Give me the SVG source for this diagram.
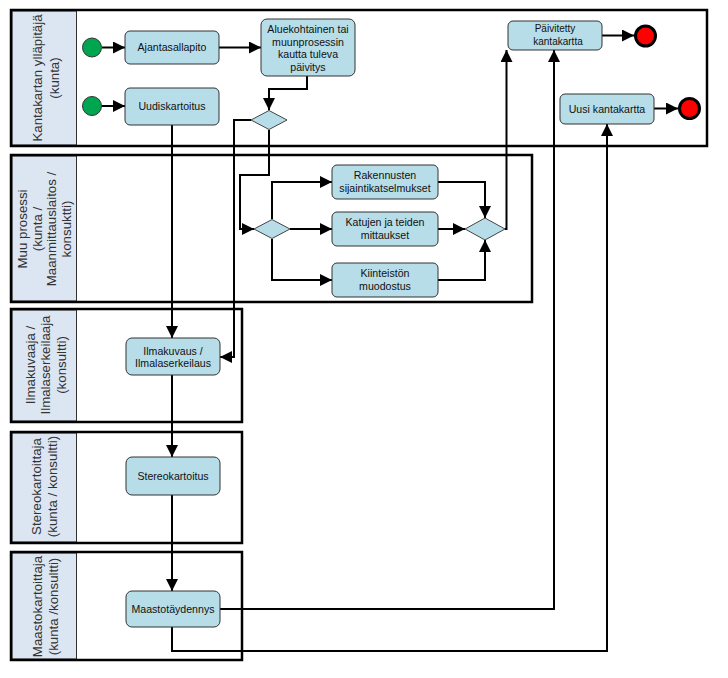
<svg xmlns="http://www.w3.org/2000/svg" width="728" height="678" viewBox="0 0 728 678">
<defs>
<marker id="ah" markerWidth="12" markerHeight="12" refX="12" refY="6" orient="auto" markerUnits="userSpaceOnUse">
<path d="M0,0 L12,6 L0,12 z" fill="#000"/>
</marker>
<style>
.lane{fill:none;stroke:#000;stroke-width:2.5}
.hdr{fill:#dce6f2;stroke:#333;stroke-width:1}
.ht{font-family:"Liberation Sans",Arial,sans-serif;font-size:13.3px;fill:#333;text-anchor:middle}
.node{fill:#b7dde8;stroke:#333;stroke-width:1}
.nt{font-family:"Liberation Sans",Arial,sans-serif;font-size:10.6px;fill:#111;text-anchor:middle}
.dia{fill:#b7dde8;stroke:#444;stroke-width:1}
.c{fill:none;stroke:#000;stroke-width:2;marker-end:url(#ah)}
.start{fill:#00a550;stroke:#333;stroke-width:1}
.end{fill:#ff0000;stroke:#000;stroke-width:3}
</style>
</defs>
<rect width="728" height="678" fill="#fff"/>

<g id="lane1">
<rect class="hdr" x="12" y="11" width="64.5" height="134"/>
<rect class="lane" x="11" y="10" width="696" height="136"/>
<text class="ht" transform="translate(41.5,78) rotate(-90)">Kantakartan  ylläpitäjä</text>
<text class="ht" transform="translate(58.5,78) rotate(-90)">(kunta)</text>
</g>
<g id="lane2">
<rect class="hdr" x="12" y="156" width="64.5" height="145"/>
<rect class="lane" x="11" y="155" width="521" height="147"/>
<text class="ht" transform="translate(26.8,229) rotate(-90)">Muu prosessi</text>
<text class="ht" transform="translate(41.5,229) rotate(-90)">(kunta /</text>
<text class="ht" transform="translate(56.2,229) rotate(-90)">Maanmittauslaitos /</text>
<text class="ht" transform="translate(70.9,229) rotate(-90)">konsuktti)</text>
</g>
<g id="lane3">
<rect class="hdr" x="12" y="310" width="64.5" height="111"/>
<rect class="lane" x="11" y="309" width="231" height="113"/>
<text class="ht" transform="translate(34.5,365) rotate(-90)">Ilmakuvaaja  /</text>
<text class="ht" transform="translate(50,365) rotate(-90)">Ilmalaserkeilaaja</text>
<text class="ht" transform="translate(65.5,365) rotate(-90)">(konsultti)</text>
</g>
<g id="lane4">
<rect class="hdr" x="12" y="433" width="64.5" height="109"/>
<rect class="lane" x="11" y="432" width="231" height="111"/>
<text class="ht" transform="translate(41.3,486.5) rotate(-90)">Stereokartoittaja</text>
<text class="ht" transform="translate(57.3,486.5) rotate(-90)">(kunta / konsultti)</text>
</g>
<g id="lane5">
<rect class="hdr" x="12" y="553" width="64.5" height="106"/>
<rect class="lane" x="11" y="552" width="231" height="108"/>
<text class="ht" transform="translate(41.6,606.5) rotate(-90)">Maastokartoittaja</text>
<text class="ht" transform="translate(57.6,606.5) rotate(-90)">(kunta /konsultti)</text>
</g>

<g id="connectors">
<path class="c" d="M102,47.5 L125,47.5"/>
<path class="c" d="M102,106 L125,106"/>
<path class="c" d="M219,47.5 L261,47.5"/>
<path class="c" d="M307,76 L307,89 L269,89 L269,110"/>
<path class="c" d="M251,120 L234,120 L234,357 L220,357"/>
<path class="c" d="M269,130 L269,175 L240,175 L240,229 L254,229"/>
<path class="c" d="M172,125 L172,338"/>
<path class="c" d="M272,219 L272,182 L332,182"/>
<path class="c" d="M290,229 L332,229"/>
<path class="c" d="M272,239 L272,280 L332,280"/>
<path class="c" d="M438,182 L485,182 L485,218"/>
<path class="c" d="M438,229 L465,229"/>
<path class="c" d="M438,280 L485,280 L485,240"/>
<path class="c" d="M505,229 L506.5,229 L506.5,50"/>
<path class="c" d="M172,375 L172,457"/>
<path class="c" d="M172,495 L172,591"/>
<path class="c" d="M220,609 L554,609 L554,50"/>
<path class="c" d="M172,627 L172,651 L607,651 L607,124"/>
<path class="c" d="M602,35.5 L634,35.5"/>
<path class="c" d="M654,108.5 L678,108.5"/>
</g>

<g id="start1"><circle class="start" cx="92" cy="47.5" r="9.5"/></g>
<g id="start2"><circle class="start" cx="92" cy="106" r="9.5"/></g>
<g id="ajantasallapito">
<rect class="node" x="125" y="31" width="94" height="33" rx="5"/>
<text class="nt" x="172" y="51.2">Ajantasallapito</text>
</g>
<g id="uudiskartoitus">
<rect class="node" x="125" y="88" width="94" height="37" rx="5"/>
<text class="nt" x="172" y="110">Uudiskartoitus</text>
</g>
<g id="aluekohtainen">
<rect class="node" x="261" y="19" width="94" height="57" rx="6"/>
<text class="nt" x="308" y="33">Aluekohtainen tai</text>
<text class="nt" x="308" y="45.5">muunprosessin</text>
<text class="nt" x="308" y="58">kautta tuleva</text>
<text class="nt" x="308" y="70.5">päivitys</text>
</g>
<g id="diamond1"><polygon class="dia" points="251,120 269,110.5 287,120 269,129.5"/></g>
<g id="diamond2"><polygon class="dia" points="254,229 272,219.5 290,229 272,238.5"/></g>
<g id="diamond3"><polygon class="dia" points="465,229 485,218 505,229 485,240"/></g>
<g id="rakennusten">
<rect class="node" x="332" y="165" width="106" height="34" rx="5"/>
<text class="nt" x="385" y="178.5">Rakennusten</text>
<text class="nt" x="385" y="191.5">sijaintikatselmukset</text>
</g>
<g id="katujen">
<rect class="node" x="332" y="212" width="106" height="34" rx="5"/>
<text class="nt" x="385" y="225.5">Katujen ja teiden</text>
<text class="nt" x="385" y="238.5">mittaukset</text>
</g>
<g id="kiinteiston">
<rect class="node" x="332" y="263" width="106" height="34" rx="5"/>
<text class="nt" x="385" y="276.5">Kiinteistön</text>
<text class="nt" x="385" y="289.5">muodostus</text>
</g>
<g id="paivitetty">
<rect class="node" x="508" y="21" width="94" height="29" rx="5"/>
<text class="nt" x="555" y="31.5" style="font-size:10px">Päivitetty</text>
<text class="nt" x="558" y="45" style="font-size:10px">kantakartta</text>
</g>
<g id="end1"><circle class="end" cx="645.5" cy="36" r="10"/></g>
<g id="uusi">
<rect class="node" x="560" y="94" width="94" height="30" rx="5"/>
<text class="nt" x="607" y="112.5">Uusi kantakartta</text>
</g>
<g id="end2"><circle class="end" cx="689.5" cy="108.5" r="10"/></g>
<g id="ilmakuvaus">
<rect class="node" x="126" y="338" width="94" height="37" rx="6"/>
<text class="nt" x="173" y="354.5">Ilmakuvaus /</text>
<text class="nt" x="173" y="367">Ilmalaserkeilaus</text>
</g>
<g id="stereokartoitus">
<rect class="node" x="126" y="457" width="94" height="38" rx="6"/>
<text class="nt" x="173" y="480">Stereokartoitus</text>
</g>
<g id="maastotaydennys">
<rect class="node" x="126" y="591" width="94" height="36" rx="6"/>
<text class="nt" x="173" y="613">Maastotäydennys</text>
</g>
</svg>
